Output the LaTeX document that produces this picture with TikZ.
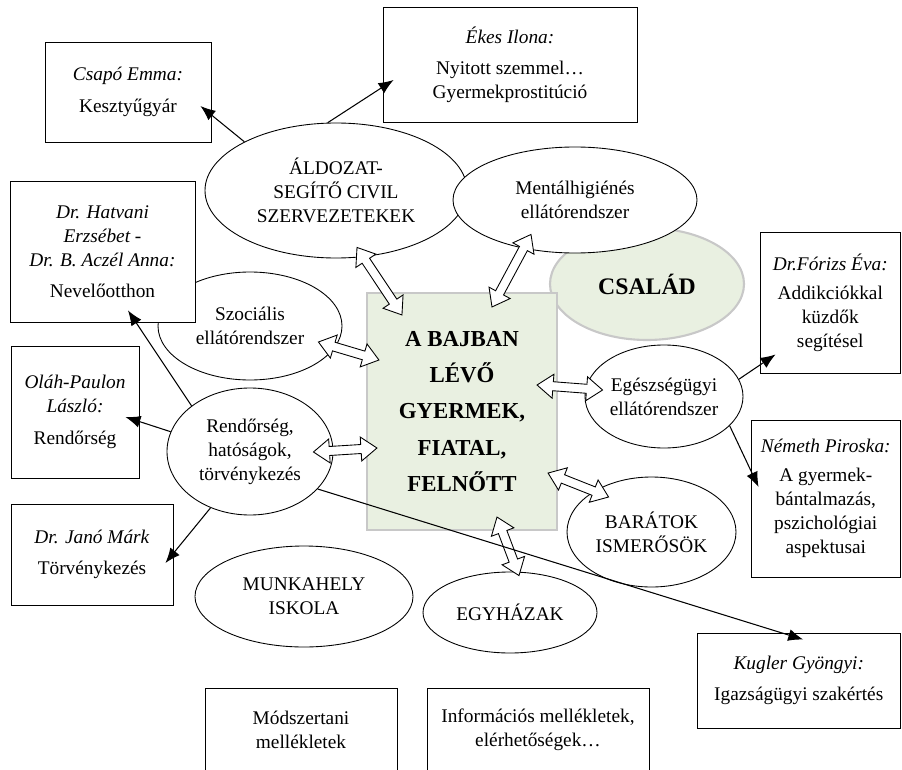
\documentclass[tikz,border=0pt]{standalone}
\usepackage{fontspec}
\setmainfont{Liberation Serif}
\usetikzlibrary{calc,arrows.meta,shapes.geometric}
\definecolor{halvanyzold}{RGB}{233,240,225}
\definecolor{keretszurke}{RGB}{200,200,200}

\newcommand{\ketnyil}[2]{%
  \path (#1) coordinate (nyA) (#2) coordinate (nyB);
  \path ($(nyA)!3.2mm!(nyB)$) coordinate (nyA1) ($(nyB)!3.2mm!(nyA)$) coordinate (nyB1);
  \draw[fill=white, line width=0.5pt] (nyA) -- ($(nyA1)!2.4mm!90:(nyB)$) -- ($(nyA1)!0.9mm!90:(nyB)$)
    -- ($(nyB1)!0.9mm!-90:(nyA)$) -- ($(nyB1)!2.4mm!-90:(nyA)$) -- (nyB)
    -- ($(nyB1)!2.4mm!90:(nyA)$) -- ($(nyB1)!0.9mm!90:(nyA)$)
    -- ($(nyA1)!0.9mm!-90:(nyB)$) -- ($(nyA1)!2.4mm!-90:(nyB)$) -- cycle;}

\begin{document}
\begin{tikzpicture}[x=0.2mm, y=-0.2mm, font=\fontsize{11}{13.6}\selectfont]
        \tikzstyle{doboz}=[draw, rectangle, fill=white, line width=0.5pt, align=center, inner sep=2pt]
        \tikzstyle{tojas}=[draw, ellipse, fill=white, line width=0.5pt, align=center, inner sep=0pt]
        \tikzstyle{nyil}=[line width=0.6pt, -{Latex[length=3mm,width=2.4mm]}]
        \useasboundingbox (0,0) rectangle (902,769);
        \clip (0,0) rectangle (902,769);
        \node [tojas, minimum width=52.4mm, minimum height=27mm] (aldozat) at (336,190.5) {ÁLDOZAT-\\SEGÍTŐ CIVIL\\SZERVEZETEKEK};
        \node [ellipse, draw=keretszurke, fill=halvanyzold, line width=1.2pt, minimum width=38.8mm, minimum height=22.4mm, font=\fontsize{13.5}{16}\selectfont\bfseries] (csalad) at (647,284) {CSALÁD};
        \node [tojas, minimum width=48.8mm, minimum height=21.2mm] (mental) at (575,200) {Mentálhigiénés\\ellátórendszer};
        \node [tojas, minimum width=36.8mm, minimum height=21.6mm] (szocialis) at (250,326) {Szociális\\ellátórendszer};
        \node [doboz, minimum width=33.2mm, minimum height=20mm] (csapo) at (128,92) {\textit{Csapó Emma:}\\[1.5mm]Kesztyűgyár};
        \node [doboz, minimum width=50.8mm, minimum height=23mm] (ekes) at (510,64.5) {\textit{Ékes Ilona:}\\[1.5mm]Nyitott szemmel…\\Gyermekprostitúció};
        \node [doboz, minimum width=37mm, minimum height=28.2mm] (hatvani) at (102.5,251.5) {\textit{Dr. Hatvani}\\\textit{Erzsébet -}\\\textit{Dr. B. Aczél Anna:}\\[1.5mm]Nevelőotthon};
        \node [doboz, minimum width=25.6mm, minimum height=26.4mm] (olah) at (75,412) {\textit{Oláh-Paulon}\\\textit{László:}\\[1.5mm]Rendőrség};
        \node [tojas, minimum width=33.2mm, minimum height=25.4mm] (rendorseg) at (250,451.5) {Rendőrség,\\hatóságok,\\törvénykezés};
        \node [doboz, minimum width=32.4mm, minimum height=20.2mm] (jano) at (92,554.5) {\textit{Dr. Janó Márk}\\[1.5mm]Törvénykezés};
        \node [tojas, minimum width=31.6mm, minimum height=20.6mm] (egeszseg) at (664,396.5) {Egészségügyi\\ellátórendszer};
        \node [doboz, minimum width=28.1mm, minimum height=28.2mm] (forizs) at (830.25,302.5) {\textit{Dr.Fórizs Éva:}\\[1mm]Addikciókkal\\küzdők\\segítésel};
        \node [doboz, minimum width=29.9mm, minimum height=31.4mm] (nemeth) at (825.75,498.5) {\textit{Németh Piroska:}\\[1mm]A gyermek-\\bántalmazás,\\pszichológiai\\aspektusai};
        \node [tojas, minimum width=33.8mm, minimum height=22mm] (baratok) at (651.5,532) {BARÁTOK\\ISMERŐSÖK};
        \node [tojas, minimum width=43.6mm, minimum height=20.2mm] (munkahely) at (304,596.5) {MUNKAHELY\\ISKOLA};
        \node [tojas, minimum width=34.8mm, minimum height=16.2mm] (egyhazak) at (510,612.5) {EGYHÁZAK};
        \node [doboz, minimum width=40.7mm, minimum height=19mm] (kugler) at (798.75,680.5) {\textit{Kugler Gyöngyi:}\\[1.5mm]Igazságügyi szakértés};
        \node [doboz, minimum width=38.4mm, minimum height=16.8mm] (modszer) at (301,730) {Módszertani\\mellékletek};
        \node [doboz, minimum width=44.4mm, minimum height=16.8mm] (info) at (538,730) {Információs mellékletek,\\elérhetőségek…};
        \node [draw=keretszurke, fill=halvanyzold, line width=1.2pt, minimum width=38mm, minimum height=47.4mm, align=center, font=\fontsize{13}{20.7}\selectfont\bfseries] (kozep) at (462,411.5) {A BAJBAN\\LÉVŐ\\GYERMEK,\\FIATAL,\\FELNŐTT};
        \ketnyil{[shift={(21,-11)}]aldozat.south}{[shift={(36,23)}]kozep.north west}
        \ketnyil{[shift={(-44,-19)}]mental.south}{[shift={(30,15)}]kozep.north}
        \ketnyil{[shift={(-24,16)}]szocialis.east}{[shift={(13,-51.5)}]kozep.west}
        \ketnyil{[shift={(-20,0.5)}]rendorseg.east}{[shift={(11,36.5)}]kozep.west}
        \ketnyil{[shift={(18,-6.5)}]egeszseg.west}{[shift={(-21,-26.5)}]kozep.east}
        \ketnyil{[shift={(42,-35)}]baratok.west}{[shift={(-10,-58)}]kozep.south east}
        \ketnyil{[shift={(9,4)}]egyhazak.north}{[shift={(35,-14)}]kozep.south}
        \draw [nyil] (aldozat.152) -- ([shift={(-11,14)}]csapo.east);
        \draw [nyil] (aldozat.97) -- ([shift={(11,15.5)}]ekes.west);
        \draw [nyil] (egeszseg.13) -- ([shift={(16,-19)}]forizs.south west);
        \draw [nyil] (egeszseg.-24) -- ([shift={(8,-11.5)}]nemeth.west);
        \draw [nyil] (rendorseg.142) -- ([shift={(25.5,-12)}]hatvani.south);
        \draw [nyil] (rendorseg.166) -- ([shift={(-14,5)}]olah.east);
        \draw [nyil] (rendorseg.-125) -- ([shift={(-8,8.5)}]jano.east);
        \draw [nyil] (rendorseg.-29) -- ([shift={(4.5,7)}]kugler.north);
    \end{tikzpicture}
\end{document}
